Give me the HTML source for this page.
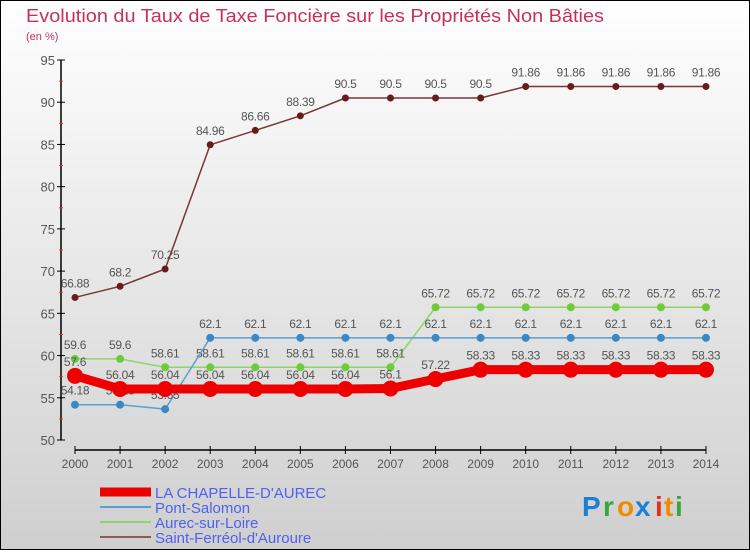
<!DOCTYPE html>
<html><head><meta charset="utf-8"><style>
html,body{margin:0;padding:0}
body{width:750px;height:550px;overflow:hidden;font-family:"Liberation Sans","DejaVu Sans",sans-serif}
</style></head><body>
<svg id="chart" width="750" height="550" xmlns="http://www.w3.org/2000/svg">
<defs><linearGradient id="bg" x1="0" y1="0" x2="0" y2="1"><stop offset="0" stop-color="#ffffff"/><stop offset="1" stop-color="#cfcfcf"/></linearGradient></defs>
<rect x="0.5" y="0.5" width="749" height="549" fill="url(#bg)" stroke="#000"/>
<text x="26" y="22" font-size="18" fill="#c8305a" textLength="578" lengthAdjust="spacingAndGlyphs" font-family="Liberation Sans, sans-serif">Evolution du Taux de Taxe Foncière sur les Propriétés Non Bâties</text>
<text x="26" y="40" font-size="11" fill="#c8305a" font-family="Liberation Sans, sans-serif">(en %)</text>
<g id="axes"></g><g id="series"></g><g id="legend"></g>
<g font-family="Liberation Sans, sans-serif" font-size="28" font-weight="bold">
<text x="582" y="516" fill="#1b7fd6">P</text><text x="603" y="516" fill="#3aa63a">r</text><text x="617" y="516" fill="#f08a00">o</text><text x="635" y="516" fill="#1b7fd6">x</text><text x="655" y="516" fill="#e03020">i</text><text x="664" y="516" fill="#f08a00">t</text><text x="675" y="516" fill="#3aa63a">i</text>
</g>
</svg>
<script>
const years=[2000,2001,2002,2003,2004,2005,2006,2007,2008,2009,2010,2011,2012,2013,2014];
const yTicks=[50,55,60,65,70,75,80,85,90,95];
const chapelle=[57.6,56.04,56.04,56.04,56.04,56.04,56.04,56.1,57.22,58.33,58.33,58.33,58.33,58.33,58.33];
const pont=[54.18,54.18,53.65,62.1,62.1,62.1,62.1,62.1,62.1,62.1,62.1,62.1,62.1,62.1,62.1];
const aurec=[59.6,59.6,58.61,58.61,58.61,58.61,58.61,58.61,65.72,65.72,65.72,65.72,65.72,65.72,65.72];
const ferreol=[66.88,68.2,70.25,84.96,86.66,88.39,90.5,90.5,90.5,90.5,91.86,91.86,91.86,91.86,91.86];
const names=["LA CHAPELLE-D'AUREC","Pont-Salomon","Aurec-sur-Loire","Saint-Ferréol-d'Auroure"];
const NS="http://www.w3.org/2000/svg";
const X=i=>75+i*45.07, Y=v=>440-(v-50)*(380/45);
function mk(tag,attrs,parent){const e=document.createElementNS(NS,tag);for(const k in attrs)e.setAttribute(k,attrs[k]);parent.appendChild(e);return e;}
const ax=document.getElementById('axes');
let l=mk('line',{x1:61,y1:60,x2:61,y2:440,stroke:'#000','stroke-width':1.5},ax);


yTicks.forEach((v,i)=>{
 mk('line',{x1:57,y1:Y(v),x2:65,y2:Y(v),stroke:'#000'},ax);
 if(i<yTicks.length-1)mk('line',{x1:59,y1:Y(v+2.5),x2:63,y2:Y(v+2.5),stroke:'#e33'},ax);
 const t=mk('text',{x:55,y:Y(v)+5,'text-anchor':'end','font-size':13,fill:'#555'},ax);t.textContent=v;
 
 
});
l=mk('line',{x1:75,y1:450,x2:706,y2:450,stroke:'#000','stroke-width':1.5},ax);


years.forEach((y,i)=>{
 mk('line',{x1:X(i),y1:446,x2:X(i),y2:454,stroke:'#000'},ax);
 const t=mk('text',{x:X(i),y:468,'text-anchor':'middle','font-size':12,fill:'#555'},ax);t.textContent=y;
 
 
});
const sg=document.getElementById('series');
const defs=[[ferreol,'#7a3535','#6a1a1a',1.5,3.5,'saint-ferreol'],[aurec,'#8ed46a','#6ccc3a',1.5,4,'aurec-sur-loire'],[pont,'#5a9fd4','#3a88c8',1.5,4,'pont-salomon'],[chapelle,'#ee0000','#ee0000',9,8,'la-chapelle']];
defs.forEach(([d,lc,pc,w,r,n])=>{
 const g=mk('g',{},sg);
 
 
 mk('polyline',{points:d.map((v,i)=>X(i)+','+Y(v)).join(' '),fill:'none',stroke:lc,'stroke-width':w,'stroke-linejoin':'round'},g);
 d.forEach((v,i)=>{
  const c=mk('circle',{cx:X(i),cy:Y(v),r:r,fill:pc},g);
  
  
  const t=mk('text',{x:X(i),y:Y(v)-10,'text-anchor':'middle','font-size':12,fill:'#555','letter-spacing':'-0.3'},g);t.textContent=v;
  
  
 });
});
const lg=document.getElementById('legend');
const lstyle=[['#ee0000',9],['#5a9fd4',2],['#8ed46a',2],['#8b5a5a',2]];
names.forEach((n,i)=>{
 const y=492+i*15;
 const g=mk('g',{},lg);
 
 
 mk('line',{x1:100,y1:y,x2:151,y2:y,stroke:lstyle[i][0],'stroke-width':lstyle[i][1]},g);
 const t=mk('text',{x:155,y:y+6,'font-size':15,fill:'#5060f0','font-family':'Liberation Sans, sans-serif'},g);t.textContent=n;
});
</script>
</body></html>
